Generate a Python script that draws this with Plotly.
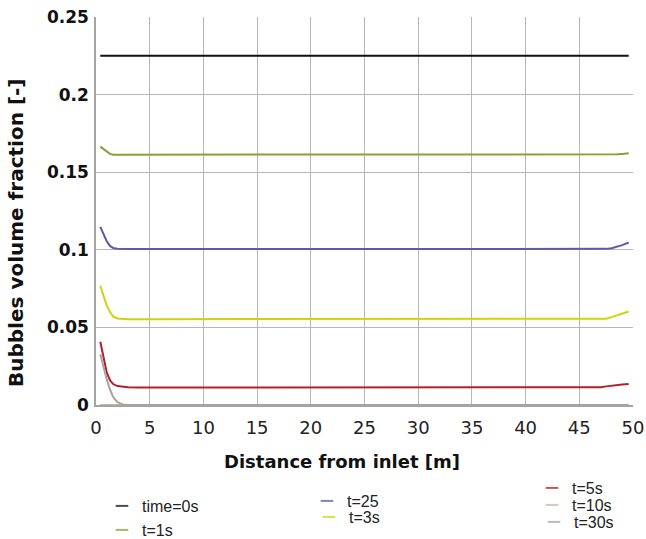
import plotly.graph_objects as go

# Positions along the pipe [m]
x_pos = [0.4, 0.7, 1.0, 1.3, 1.6, 2.0, 2.5, 3.0, 4.0, 10, 20, 30, 40,
         46, 47, 47.5, 48, 48.5, 49, 49.6]

# Bubble volume fraction [-] for each time
t0 = [0.225] * 20
t1 = [0.1665, 0.1648, 0.1630, 0.1618, 0.1613, 0.1613, 0.1613, 0.1613, 0.1613, 0.1613,
      0.1613, 0.1613, 0.1613, 0.1613, 0.1613, 0.1613, 0.1613, 0.1615, 0.1618, 0.1622]
t25 = [0.1148, 0.1100, 0.1055, 0.1025, 0.1012, 0.1007, 0.1005, 0.1005, 0.1005, 0.1005,
       0.1005, 0.1005, 0.1005, 0.1005, 0.1005, 0.1006, 0.1010, 0.1018, 0.1030, 0.1047]
t3 = [0.0768, 0.0700, 0.0640, 0.0600, 0.0570, 0.0558, 0.0554, 0.0553, 0.0553, 0.0553,
      0.0553, 0.0553, 0.0553, 0.0553, 0.0553, 0.0556, 0.0566, 0.0577, 0.0589, 0.0602]
t5 = [0.0408, 0.0300, 0.0210, 0.0160, 0.0135, 0.0122, 0.0116, 0.0114, 0.0113, 0.0113,
      0.0113, 0.0113, 0.0113, 0.0113, 0.0115, 0.0120, 0.0125, 0.0129, 0.0132, 0.0136]
t10 = [0.0] * 20
t30 = [0.0327, 0.0240, 0.0165, 0.0100, 0.0050, 0.0018, 0.0004, 0.0, 0.0, 0.0,
       0.0, 0.0, 0.0, 0.0, 0.0, 0.0, 0.0, 0.0, 0.0, 0.0]

x_ticks = [0, 5, 10, 15, 20, 25, 30, 35, 40, 45, 50]
y_ticks = [0, 0.05, 0.1, 0.15, 0.2, 0.25]
y_tick_text = ["0", "0.05", "0.1", "0.15", "0.2", "0.25"]

# name, values, line colour, legend id, legend text start / centre (page px)
series = [
    ("t=10s", t10, "#c9b2a2", "legend6", (572, 505)),
    ("time=0s", t0, "#111111", "legend", (142, 506)),
    ("t=1s", t1, "#8e9e34", "legend2", (142, 530)),
    ("t=25", t25, "#5b5ca6", "legend3", (347, 501)),
    ("t=3s", t3, "#d2d20c", "legend4", (349, 517)),
    ("t=5s", t5, "#b0222a", "legend5", (572, 488)),
    ("t=30s", t30, "#aaa2a2", "legend7", (574, 522)),
]

W, H = 646, 539
L, R, T, B = 96, 13, 17, 134
PW, PH = W - L - R, H - T - B


def px_x(px):
    return (px - L) / PW


def px_y(py):
    return (H - B - py) / PH


fig = go.Figure()

legend_layout = {}
for name, vals, color, lg, (px, py) in series:
    # the curve itself
    fig.add_trace(go.Scatter(
        x=x_pos, y=vals, mode="lines", name=name, showlegend=False,
        line=dict(color=color, width=2), hoverinfo="skip"))
    # short dash used as the legend key
    fig.add_trace(go.Scatter(
        x=[None], y=[None], mode="markers", name=name, legend=lg,
        opacity=0.75,
        marker=dict(symbol="line-ew", size=9, line=dict(color=color, width=2))))
    legend_layout[lg] = dict(
        xref="container", yref="container",
        x=(px - 40) / W, y=1 - py / H, xanchor="left", yanchor="middle",
        bgcolor="rgba(0,0,0,0)", borderwidth=0, itemwidth=30,
        font=dict(family="Liberation Sans, Arial, sans-serif", size=16, color="#222222"))

fig.update_layout(
    width=W, height=H,
    margin=dict(l=L, r=R, t=T, b=B, autoexpand=False),
    paper_bgcolor="white", plot_bgcolor="white",
    **legend_layout,
    xaxis=dict(
        range=[0, 50], tickvals=x_ticks, showgrid=True, gridcolor="#b6b6b6", gridwidth=1,
        showline=True, linecolor="#a4a4a4", linewidth=1.5, mirror=False,
        zeroline=False, ticks="", ticklabelstandoff=6,
        tickfont=dict(family="DejaVu Sans, sans-serif", size=18, color="#222222")),
    yaxis=dict(
        range=[0, 0.25], tickvals=y_ticks, ticktext=y_tick_text, showgrid=True,
        gridcolor="#b6b6b6", gridwidth=1, showline=True, linecolor="#a4a4a4", linewidth=1.5,
        zeroline=False, ticks="", ticklabelstandoff=2,
        tickfont=dict(family="DejaVu Sans, sans-serif", size=17, color="#111111",
                      weight="bold")),
    annotations=[
        dict(text="<b>Distance from inlet [m]</b>", xref="paper", yref="paper",
             x=px_x(342), y=px_y(462), xanchor="center", yanchor="middle",
             showarrow=False,
             font=dict(family="DejaVu Sans, sans-serif", size=18, color="#111111")),
        dict(text="<b>Bubbles volume fraction [-]</b>", xref="paper", yref="paper",
             x=px_x(16), y=px_y(233), xanchor="center", yanchor="middle", textangle=-90,
             showarrow=False,
             font=dict(family="DejaVu Sans, sans-serif", size=20, color="#111111")),
    ],
)

fig.write_html("out.html")
